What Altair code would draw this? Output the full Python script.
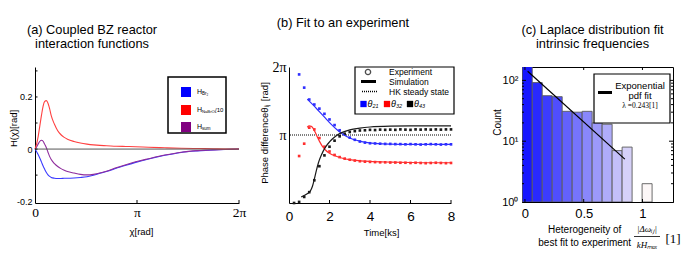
import altair as alt
import numpy as np
import pandas as pd

PI = float(np.pi)

# ---------------- (a) interaction functions ----------------
a_x = [0, 0.05, 0.1, 0.15, 0.2, 0.25, 0.3, 0.35, 0.4, 0.45, 0.5, 0.6, 0.7, 0.8, 0.9, 1.0,
       1.2, 1.4, 1.6, 1.8, 2.0, 2.2, 2.5, 2.8, 3.1, 3.5, 4.0, 4.5, 5.0, 5.5, 6.0, 6.283]
a_red = [0, 0.02, 0.05, 0.09, 0.13, 0.165, 0.183, 0.186, 0.176, 0.155, 0.128, 0.095, 0.07, 0.055, 0.045, 0.038,
         0.029, 0.023, 0.019, 0.016, 0.014, 0.013, 0.011, 0.010, 0.009, 0.007, 0.005, 0.003, 0.002, 0.001, 0.0005, 0]
a_blue = [0, -0.01, -0.022, -0.035, -0.05, -0.065, -0.078, -0.09, -0.099, -0.105, -0.109, -0.112, -0.113, -0.113, -0.112, -0.112,
          -0.111, -0.109, -0.106, -0.1, -0.093, -0.086, -0.074, -0.062, -0.051, -0.038, -0.024, -0.013, -0.007, -0.003, -0.001, 0]
a_purple = [0, 0.008, 0.02, 0.03, 0.034, 0.03, 0.018, 0.005, -0.012, -0.028, -0.04, -0.056, -0.067, -0.075, -0.081, -0.086,
            -0.092, -0.097, -0.099, -0.097, -0.092, -0.085, -0.072, -0.06, -0.049, -0.037, -0.023, -0.012, -0.006, -0.003, -0.001, 0]
a_yticks = [-0.1, 0, 0.1, 0.2, 0.3]
a_xticks = [PI, 2 * PI]

# ---------------- (b) fit to an experiment ----------------
b_t = [0.25, 0.5, 0.75, 1.0, 1.25, 1.5, 1.75, 2.0, 2.25, 2.5, 2.75, 3.0, 3.25, 3.5, 3.75, 4.0,
       4.25, 4.5, 4.75, 5.0, 5.25, 5.5, 5.75, 6.0, 6.25, 6.5, 6.75, 7.0, 7.25, 7.5, 7.75, 8.0]
b_exp_21 = [None, 5.94, 5.33, 4.78, 4.55, 4.36, 4.12, 3.86, 3.6, 3.36, 3.17, 3.02, 2.92, 2.84, 2.79, 2.76,
            2.75, 2.74, 2.73, 2.73, 2.72, 2.72, 2.71, 2.72, 2.71, 2.70, 2.71, 2.72, 2.71, 2.70, 2.71, 2.71]
b_exp_32 = [None, 2.17, 2.74, 3.48, 3.4, 3.0, 2.6, 2.38, 2.22, 2.12, 2.05, 2.0, 1.96, 1.93, 1.91, 1.9,
            1.89, 1.88, 1.88, 1.87, 1.87, 1.86, 1.86, 1.85, 1.86, 1.85, 1.84, 1.85, 1.86, 1.85, 1.84, 1.85]
b_exp_43 = [0.0, 0.05, 0.28, 0.5, 1.05, 1.7, 2.2, 2.6, 2.88, 3.08, 3.2, 3.28, 3.32, 3.35, 3.36, 3.38,
            3.37, 3.39, 3.38, 3.39, 3.38, 3.40, 3.39, 3.38, 3.40, 3.39, 3.40, 3.39, 3.40, 3.39, 3.40, 3.40]

b_sim21_t = [0.9, 1.2, 1.5, 1.8, 2.1, 2.4, 2.7, 3.0, 3.4, 3.8, 4.4, 5.0, 6.0, 7.0, 8.0]
b_sim21 = [4.8, 4.52, 4.22, 3.92, 3.62, 3.36, 3.15, 3.0, 2.88, 2.8, 2.74, 2.72, 2.71, 2.71, 2.71]
b_sim32_t = [0.9, 1.0, 1.1, 1.2, 1.35, 1.5, 1.65, 1.8, 2.0, 2.3, 2.6, 3.0, 3.5, 4.0, 5.0, 6.0, 7.0, 8.0]
b_sim32 = [3.5, 3.56, 3.54, 3.44, 3.15, 2.86, 2.62, 2.45, 2.3, 2.17, 2.08, 2.0, 1.95, 1.92, 1.89, 1.87, 1.86, 1.86]
b_sim43_t = [0.6, 0.9, 1.05, 1.15, 1.25, 1.35, 1.45, 1.6, 1.8, 2.0, 2.3, 2.6, 3.0, 3.5, 4.0, 5.0, 6.0, 7.0, 8.0]
b_sim43 = [0.28, 0.43, 0.55, 0.75, 1.1, 1.5, 1.85, 2.22, 2.58, 2.82, 3.08, 3.25, 3.38, 3.46, 3.51, 3.55, 3.56, 3.56, 3.56]
b_hk = PI
b_xticks = [2, 4, 6, 8]

# ---------------- (c) heterogeneity histogram ----------------
c_bin_left = [-0.023, 0.062, 0.147, 0.232, 0.317, 0.402, 0.487, 0.572, 0.657, 0.742, 0.827, 0.997]
c_counts = [180, 92, 56, 54, 31, 30, 31, 20, 19, 7, 8, 2]
c_bin_width = 0.085
c_fit_x = [0.023, 0.85]
c_fit_y = [141, 5.07]
c_major = [10, 100]
c_minor = [2, 3, 4, 5, 6, 7, 8, 9, 20, 30, 40, 50, 60, 70, 80, 90]
c_xticks = [0, 0.5, 1]

# ---------------- helpers ----------------
SANS = "Liberation Sans"
SERIF = "Liberation Serif"
ONE = pd.DataFrame({"k": [0]})


def txt(s, x, y, size=9, align="center", font=SANS, style="normal", color="black"):
    return alt.Chart(ONE).mark_text(text=s, fontSize=size, align=align, baseline="middle",
                                    font=font, fontStyle=style, color=color).encode(
        x=alt.value(x), y=alt.value(y))


def box(x1, x2, y1, y2, sw=1.2):
    return alt.Chart(ONE).mark_rect(fill="white", stroke="black", strokeWidth=sw).encode(
        x=alt.value(x1), x2=alt.value(x2), y=alt.value(y1), y2=alt.value(y2))


def hline(x1, x2, y, sw=1.0, dash=(), color="black"):
    props = dict(color=color, strokeWidth=sw)
    if dash:
        props["strokeDash"] = list(dash)
    return alt.Chart(ONE).mark_rule(**props).encode(x=alt.value(x1), x2=alt.value(x2), y=alt.value(y))


def sq(x, y, size, color):
    return alt.Chart(ONE).mark_square(size=size, color=color, opacity=1).encode(
        x=alt.value(x), y=alt.value(y))


def xticks(vals, y0, y1, field):
    return alt.Chart(pd.DataFrame({field: vals})).mark_rule(color="black", strokeWidth=1).encode(
        x=alt.X(f"{field}:Q"), y=alt.value(y0), y2=alt.value(y1))


def yticks(vals, x0, x1, field):
    return alt.Chart(pd.DataFrame({field: vals})).mark_rule(color="black", strokeWidth=1).encode(
        y=alt.Y(f"{field}:Q"), x=alt.value(x0), x2=alt.value(x1))


AX = dict(domainColor="black", domainWidth=1, ticks=False, grid=False, labelColor="black",
          titleColor="black", titleFontWeight="normal", titleFont=SANS, labelFont=SANS)
TITLE = dict(fontSize=12.8, fontWeight="normal", font=SANS, lineHeight=14, anchor="middle",
             frame="group", color="black")

# ---------------- panel a ----------------
A_W, A_H = 204, 136
dfa = pd.concat([
    pd.DataFrame({"x": a_x, "v": a_blue, "s": "blue"}),
    pd.DataFrame({"x": a_x, "v": a_purple, "s": "purple"}),
    pd.DataFrame({"x": a_x, "v": a_red, "s": "red"}),
])

a_lines = alt.Chart(dfa).mark_line(strokeWidth=1.1, interpolate="monotone").encode(
    x=alt.X("x:Q", scale=alt.Scale(domain=[0, 2 * PI], nice=False, zero=False),
            axis=alt.Axis(values=[0, PI, 2 * PI],
                          labelExpr="datum.value < 0.5 ? '0' : (datum.value < 4 ? 'π' : '2π')",
                          labelFontSize=13.5, labelPadding=2, labelFlush=False,
                          title="χ[rad]", titleFontSize=9.5,
                          titleX=106, titleY=28, titleBaseline="middle", titleAlign="center",
                          **{**AX, "labelFont": SERIF})),
    y=alt.Y("v:Q", scale=alt.Scale(domain=[-0.207, 0.315], nice=False, zero=False),
            axis=alt.Axis(values=[-0.2, -0.1, 0, 0.1, 0.2, 0.3],
                          labelExpr="datum.value == 0 ? '0' : (datum.value < 0 ? '-' + format(-datum.value, '.1f') : format(datum.value, '.1f'))",
                          labelFontSize=9, labelPadding=3, title="H(χ)[rad]", titleFontSize=9.5,
                          titleX=-22, titleY=61, titleAngle=-90, titleAlign="center",
                          titleBaseline="middle", **AX)),
    color=alt.Color("s:N", scale=alt.Scale(domain=["blue", "purple", "red"],
                                           range=["#3a3aff", "#8e2c9c", "#ff4040"]), legend=None),
)
a_zero = alt.Chart(ONE).mark_rule(color="#555555", strokeWidth=1).encode(y=alt.datum(0))

a_legend = [
    box(133, 191, 10, 66, 1.5),
    sq(151, 25, 100, "#0000ff"), sq(151, 43, 100, "#ff0000"), sq(151, 60, 100, "#800080"),
    txt("H", 162, 25, 7, "left"), txt("Br₂", 167, 27, 4.5, "left"),
    txt("H", 162, 43, 7, "left"), txt("NaBrO₃", 167, 45, 4.2, "left"), txt("/10", 180, 43, 6, "left"),
    txt("H", 162, 60, 7, "left"), txt("sum", 167, 62, 4.5, "left"),
]

panel_a = alt.layer(a_lines, a_zero, xticks(a_xticks, A_H, A_H - 3, "x"),
                    yticks(a_yticks, 0, 2.5, "v"), *a_legend).properties(
    width=A_W, height=A_H,
    title=alt.TitleParams(["(a) Coupled BZ reactor", "interaction functions"], offset=16, dx=-45, **TITLE),
    view=alt.ViewBackground(stroke="transparent"),
)

# ---------------- panel b ----------------
B_W, B_H = 162, 136
dfb_dots = pd.concat([
    pd.DataFrame({"t": b_t, "v": b_exp_21, "s": "θ21"}),
    pd.DataFrame({"t": b_t, "v": b_exp_32, "s": "θ32"}),
    pd.DataFrame({"t": b_t, "v": b_exp_43, "s": "θ43"}),
]).dropna()
dfb_sim = pd.concat([
    pd.DataFrame({"t": b_sim21_t, "v": b_sim21, "s": "θ21"}),
    pd.DataFrame({"t": b_sim32_t, "v": b_sim32, "s": "θ32"}),
    pd.DataFrame({"t": b_sim43_t, "v": b_sim43, "s": "θ43"}),
])
b_color = alt.Scale(domain=["θ21", "θ32", "θ43"], range=["#2e2eff", "#ff2e2e", "#1a1a1a"])

b_xenc = alt.X("t:Q", scale=alt.Scale(domain=[0, 8], nice=False),
               axis=alt.Axis(values=[0, 2, 4, 6, 8], labelFontSize=13.5, labelPadding=6,
                             labelFlush=False,
                             title="Time[ks]", titleFontSize=9.5, titleX=92, titleY=29,
                             titleBaseline="middle", titleAlign="center", **AX))
b_yenc = alt.Y("v:Q", scale=alt.Scale(domain=[0, 2 * PI], nice=False),
               axis=alt.Axis(values=[PI, 2 * PI], labelExpr="datum.value < 4 ? 'π' : '2π'",
                             labelFontSize=14, labelPadding=3,
                             title="Phase differenceθᵢⱼ [rad]", titleFontSize=9.5,
                             titleX=-25, titleY=65.5, titleAngle=-90, titleAlign="center",
                             titleBaseline="middle", **{**AX, "labelFont": SERIF}))

b_dots = alt.Chart(dfb_dots).mark_square(size=7, opacity=1).encode(
    x=b_xenc, y=b_yenc, color=alt.Color("s:N", scale=b_color, legend=None))
b_lines = alt.Chart(dfb_sim).mark_line(strokeWidth=1.2, interpolate="monotone").encode(
    x="t:Q", y="v:Q", color=alt.Color("s:N", scale=b_color, legend=None))
b_hk_rule = alt.Chart(ONE).mark_rule(color="black", strokeWidth=1, strokeDash=[1, 1]).encode(
    y=alt.datum(b_hk))

b_legend = [
    box(66, 165, 0, 47, 1.2),
    alt.Chart(ONE).mark_point(shape="circle", size=28, filled=False, color="black", strokeWidth=1.3).encode(
        x=alt.value(79), y=alt.value(5)),
    hline(72, 87, 14.5, 3),
    hline(73, 88, 24.5, 1.5, (1, 1)),
    txt("Experiment", 100, 5, 8.5, "left"),
    txt("Simulation", 100, 14.5, 8.5, "left"),
    txt("HK steady state", 100, 24.5, 8.5, "left"),
    sq(74.5, 37, 40, "#0000ff"), txt("θ", 78.5, 36.5, 9, "left", style="italic"), txt("21", 83.5, 39, 5.5, "left", style="italic"),
    sq(98, 37, 40, "#ff0000"), txt("θ", 102, 36.5, 9, "left", style="italic"), txt("32", 107, 39, 5.5, "left", style="italic"),
    sq(121, 37, 40, "#000000"), txt("θ", 125, 36.5, 9, "left", style="italic"), txt("43", 130, 39, 5.5, "left", style="italic"),
]

panel_b = alt.layer(b_dots, b_hk_rule, b_lines, xticks(b_xticks, B_H, B_H - 3, "t"), *b_legend).properties(
    width=B_W, height=B_H,
    title=alt.TitleParams(["(b) Fit to an experiment"], offset=30, dx=-27, **TITLE),
    view=alt.ViewBackground(stroke="transparent"),
)

# ---------------- panel c ----------------
C_W, C_H = 151, 135
dfc = pd.DataFrame({"left": c_bin_left, "count": c_counts})
dfc["right"] = dfc["left"] + c_bin_width
dfc_fit = pd.DataFrame({"left": c_fit_x, "count": c_fit_y})

c_bars = alt.Chart(dfc).mark_rect(stroke="#5a5a5a", strokeWidth=0.9, clip=True).encode(
    x=alt.X("left:Q", scale=alt.Scale(domain=[-0.025, 1.26], nice=False, zero=False),
            axis=alt.Axis(values=[0, 0.5, 1], format="~g", labelFontSize=13, labelPadding=5,
                          labelFlush=False, title="", **AX)),
    x2="right:Q",
    y=alt.Y("count:Q", scale=alt.Scale(type="log", domain=[1, 166], nice=False),
            axis=alt.Axis(values=[1, 10, 100],
                          labelExpr="datum.value < 2 ? '10⁰' : (datum.value < 20 ? '10¹' : '10²')",
                          labelFontSize=11, labelPadding=4, title="Count", titleFontSize=10,
                          titleX=-25, titleY=55, titleAngle=-90, titleAlign="center",
                          titleBaseline="middle", **AX)),
    y2=alt.datum(1),
    color=alt.Color("left:Q", scale=alt.Scale(domain=[-0.023, 0.997], range=["#1616ff", "#fcf7f7"],
                                              interpolate="rgb"),
                    legend=None),
)
c_fit = alt.Chart(dfc_fit).mark_line(color="black", strokeWidth=1.2).encode(x="left:Q", y="count:Q")

c_ticks = [
    yticks(c_major, 0, 4, "count"), yticks(c_major, C_W - 4, C_W, "count"),
    yticks(c_minor, 0, 2, "count"), yticks(c_minor, C_W - 2, C_W, "count"),
    xticks(c_xticks, C_H, C_H - 3, "left"), xticks(c_xticks, 0, 3, "left"),
]

c_legend = [
    box(72, 148, 7, 56, 1.2),
    hline(76, 90, 25.5, 3),
    txt("Exponential", 118, 18.5, 9.5),
    txt("pdf fit", 118, 29, 9.5),
    txt("λ =0.243[1]", 118, 38.7, 7.5, font=SERIF),
]
c_xtitle = [
    txt("Heterogeneity of", 62.7, 163, 10),
    txt("best fit to experiment", 62.7, 175.5, 10),
    txt("|Δωᵢⱼ|", 125, 162, 9, font=SERIF, style="italic"),
    hline(112, 138, 169.5, 0.8),
    txt("kHₘₐₓ", 125, 177.5, 9, font=SERIF, style="italic"),
    txt("[1]", 151, 172, 13, font=SERIF),
]

panel_c = alt.layer(c_bars, c_fit, *c_ticks, *c_legend, *c_xtitle).properties(
    width=C_W, height=C_H,
    title=alt.TitleParams(["(c) Laplace distribution fit", "intrinsic frequencies"], offset=16, dx=-5,
                          **TITLE),
    view=alt.ViewBackground(stroke="black", strokeWidth=1),
)

inner = alt.hconcat(panel_a, panel_b, spacing=12).resolve_scale(color="independent")
chart = alt.hconcat(inner, panel_c, spacing=36).resolve_scale(color="independent").properties(
    padding={"left": 0, "top": 9, "right": 0, "bottom": 0},
    background="white",
).configure(font=SANS).configure_view(strokeWidth=0)

chart.save("out.html", embed_options={"renderer": "svg", "actions": False})
